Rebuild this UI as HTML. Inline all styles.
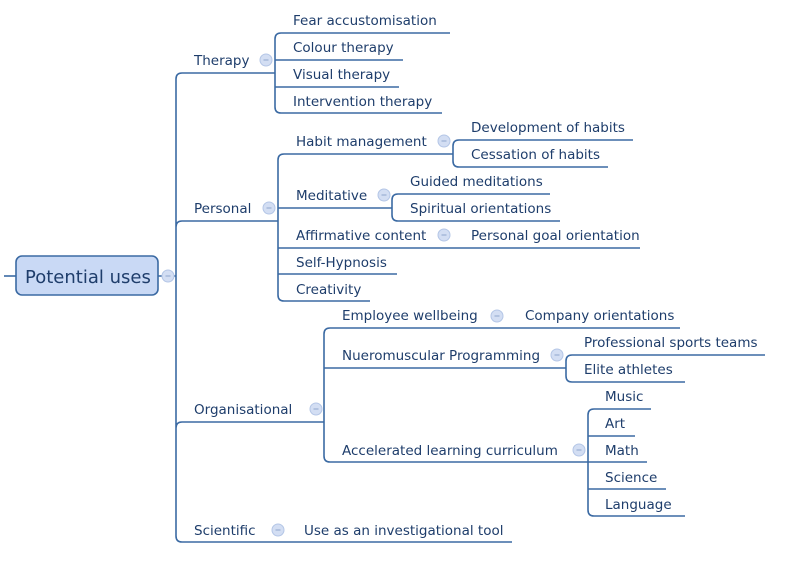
<!DOCTYPE html>
<html><head><style>
body{margin:0;background:#fff;}
svg{display:block;}
text{font-family:"DejaVu Sans","Liberation Sans",sans-serif;font-size:13.5px;fill:#1e3d6b;}
.l{stroke:#3b6aa3;stroke-width:1.6;fill:none;}
.c{fill:#d3def3;stroke:#b4c6e6;stroke-width:1;}
</style></head><body>
<svg width="800" height="569" viewBox="0 0 800 569">
<defs><g id="m"><circle class="c" cx="0" cy="0" r="6"/><line x1="-2.5" y1="0" x2="2.5" y2="0" stroke="#8fa6cc" stroke-width="1"/></g></defs>
<line class="l" x1="4" y1="276" x2="16" y2="276"/>
<rect x="16" y="256" width="142" height="39" rx="6" fill="#c9d9f5" stroke="#3b6aa3" stroke-width="1.6"/>
<text x="25" y="283" style="font-size:18px">Potential uses</text>
<line class="l" x1="158" y1="276" x2="176" y2="276"/>
<use href="#m" x="168" y="276"/>
<path class="l" d="M176 79 Q176 73 182 73 L275 73 M176 79 L176 536 Q176 542 182 542 L512 542 M176 227 Q176 221 182 221 L278 221 M176 428 Q176 422 182 422 L324 422"/>
<text x="194" y="65">Therapy</text><use href="#m" x="266" y="60"/>
<path class="l" d="M275 39 Q275 33 281 33 L450 33 M275 39 L275 107 Q275 113 281 113 L442 113 M275 60 L403 60 M275 87 L399 87"/>
<text x="293" y="25">Fear accustomisation</text>
<text x="293" y="52">Colour therapy</text>
<text x="293" y="79">Visual therapy</text>
<text x="293" y="106">Intervention therapy</text>
<text x="194" y="213">Personal</text><use href="#m" x="269" y="208"/>
<path class="l" d="M278 160 Q278 154 284 154 L453 154 M278 160 L278 295 Q278 301 284 301 L370 301 M278 208 L392 208 M278 248 L640 248 M278 274 L397 274"/>
<text x="296" y="146">Habit management</text><use href="#m" x="444" y="141"/>
<path class="l" d="M453 146 Q453 140 459 140 L633 140 M453 146 L453 161 Q453 167 459 167 L608 167"/>
<text x="471" y="132">Development of habits</text>
<text x="471" y="159">Cessation of habits</text>
<text x="296" y="200">Meditative</text><use href="#m" x="384" y="195"/>
<path class="l" d="M392 200 Q392 194 398 194 L550 194 M392 200 L392 215 Q392 221 398 221 L560 221"/>
<text x="410" y="186">Guided meditations</text>
<text x="410" y="213">Spiritual orientations</text>
<text x="296" y="240">Affirmative content</text><use href="#m" x="444" y="235"/>
<text x="471" y="240">Personal goal orientation</text>
<text x="296" y="267">Self-Hypnosis</text>
<text x="296" y="294">Creativity</text>
<text x="194" y="414">Organisational</text><use href="#m" x="316" y="409"/>
<path class="l" d="M324 334 Q324 328 330 328 L680 328 M324 334 L324 456 Q324 462 330 462 L647 462 M324 368 L566 368"/>
<text x="342" y="320">Employee wellbeing</text><use href="#m" x="497" y="316"/>
<text x="525" y="320">Company orientations</text>
<text x="342" y="360">Nueromuscular Programming</text><use href="#m" x="557" y="355"/>
<path class="l" d="M566 361 Q566 355 572 355 L765 355 M566 361 L566 376 Q566 382 572 382 L685 382"/>
<text x="584" y="347">Professional sports teams</text>
<text x="584" y="374">Elite athletes</text>
<text x="342" y="455">Accelerated learning curriculum</text><use href="#m" x="579" y="450"/>
<path class="l" d="M588 415 Q588 409 594 409 L651 409 M588 415 L588 510 Q588 516 594 516 L685 516 M588 436 L635 436 M588 489 L666 489"/>
<text x="605" y="401">Music</text>
<text x="605" y="428">Art</text>
<text x="605" y="455">Math</text>
<text x="605" y="482">Science</text>
<text x="605" y="509">Language</text>
<text x="194" y="535">Scientific</text><use href="#m" x="278" y="530"/>
<text x="304" y="535">Use as an investigational tool</text>
</svg>
</body></html>
